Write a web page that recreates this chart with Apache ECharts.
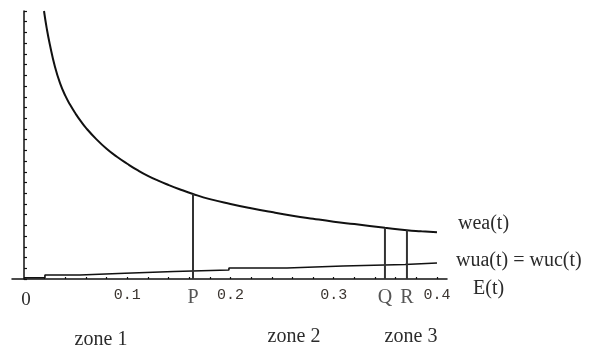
<!DOCTYPE html>
<html>
<head>
<meta charset="utf-8">
<script src="https://cdn.jsdelivr.net/npm/echarts@6/dist/echarts.min.js"></script>
<style>
  html, body { margin: 0; padding: 0; background: #ffffff; }
  #chart { width: 600px; height: 352px; }
</style>
</head>
<body>
<div id="chart"></div>
<script>
// wea(t): sampled curve, t on the horizontal axis
const weaT = [0.0194, 0.022, 0.025, 0.030, 0.035, 0.040, 0.045, 0.050, 0.055, 0.060,
              0.070, 0.080, 0.090, 0.100, 0.110, 0.120, 0.130, 0.140, 0.150, 0.1637,
              0.180, 0.200, 0.220, 0.240, 0.260, 0.280, 0.300, 0.320, 0.3496, 0.3709,
              0.385, 0.400];
const weaY = [25.0, 23.4, 21.9, 19.8, 18.25, 17.1, 16.2, 15.42, 14.72, 14.1,
              13.05, 12.15, 11.4, 10.75, 10.15, 9.62, 9.17, 8.77, 8.40, 7.93,
              7.45, 7.0, 6.6, 6.24, 5.91, 5.62, 5.35, 5.12, 4.78, 4.55,
              4.45, 4.35];

// wua(t) = wuc(t): step levels, each level holds until the next t
const wuaT = [0, 0.0203, 0.0542, 0.0978, 0.1453, 0.1985, 0.2547, 0.309, 0.369, 0.400];
const wuaY = [0.12, 0.37, 0.53, 0.70, 0.84, 1.03, 1.21, 1.35, 1.49, 1.49];

// marked instants and the height of wea(t) there
const markNames = ['P', 'Q', 'R'];
const markT = [0.1637, 0.3496, 0.3709];
const markY = [7.93, 4.78, 4.55];

// axis ticks and labels
const xTickValues = [0.02, 0.04, 0.06, 0.08, 0.10, 0.12, 0.14, 0.16, 0.18, 0.20,
                     0.22, 0.24, 0.26, 0.28, 0.30, 0.32, 0.34, 0.36, 0.38, 0.40];
const xLabelValues = [0, 0.1, 0.2, 0.3, 0.4];
const xLabelTexts = ['0', '0.1', '0.2', '0.3', '0.4'];

const zoneNames = ['zone 1', 'zone 2', 'zone 3'];

const SERIF = '"Liberation Serif", "DejaVu Serif", serif';
const MONO = '"Liberation Mono", "DejaVu Sans Mono", monospace';
const TEXT = '#2b2b2b';

const chart = echarts.init(document.getElementById('chart'), null, { renderer: 'canvas' });

// vertical drop lines from wea(t) to the time axis
const dropSeries = markNames.map((name, i) => ({
  name: 'drop ' + name,
  type: 'line',
  data: [[markT[i], 0], [markT[i], markY[i]]],
  symbol: 'none',
  silent: true,
  clip: false,
  lineStyle: { color: '#333333', width: 2 }
}));

chart.setOption({
  animation: false,
  backgroundColor: '#ffffff',
  grid: { left: 12, right: 153, top: 11, bottom: 73, containLabel: false, outerBoundsMode: 'none' },
  xAxis: {
    type: 'value',
    min: -0.0116,
    max: 0.4097,
    name: 'E(t)',
    nameLocation: 'end',
    nameGap: 26,
    nameTextStyle: {
      fontFamily: SERIF, fontSize: 20, color: TEXT,
      align: 'left', verticalAlign: 'top'
    },
    axisLine: { show: true, onZero: false, lineStyle: { color: '#111111', width: 1.5 } },
    axisTick: { show: true, inside: true, length: 2, customValues: xTickValues,
                lineStyle: { color: '#111111', width: 1.2 } },
    axisLabel: {
      show: true,
      margin: 9,
      customValues: xLabelValues,
      formatter: v => {
        const i = xLabelValues.findIndex(x => Math.abs(x - v) < 1e-9);
        const t = i >= 0 ? xLabelTexts[i] : '';
        return i === 0 ? '{z|' + t + '}' : '{m|' + t + '}';
      },
      rich: {
        z: { fontFamily: SERIF, fontSize: 19, color: TEXT, padding: [3, 0, 0, 4] },
        m: { fontFamily: MONO, fontSize: 15, color: '#3b3530' }
      }
    },
    splitLine: { show: false }
  },
  yAxis: {
    type: 'value',
    min: 0,
    max: 25,
    interval: 1,
    axisLine: { show: true, onZero: true, lineStyle: { color: '#111111', width: 1.5 } },
    axisTick: { show: true, inside: true, length: 3, lineStyle: { color: '#111111', width: 1.2 } },
    axisLabel: { show: false },
    splitLine: { show: false }
  },
  graphic: zoneNames.map((z, i) => ({
    type: 'text',
    x: [101, 294, 411][i],
    y: [340, 337, 337][i],
    style: {
      text: z,
      font: '20px ' + SERIF,
      fill: TEXT,
      align: 'center',
      verticalAlign: 'middle'
    }
  })),
  series: [
    {
      name: 'wea(t)',
      type: 'line',
      data: weaT.map((t, i) => [t, weaY[i]]),
      symbol: 'none',
      smooth: 0.5,
      clip: false,
      lineStyle: { color: '#111111', width: 2 },
      endLabel: {
        show: true,
        formatter: 'wea(t)',
        distance: 0,
        offset: [21, -9],
        fontFamily: SERIF,
        fontSize: 20,
        color: TEXT
      }
    },
    {
      name: 'wua(t)',
      type: 'line',
      data: wuaT.map((t, i) => [t, wuaY[i]]),
      step: 'end',
      symbol: 'none',
      clip: false,
      lineStyle: { color: '#111111', width: 1.6 },
      endLabel: {
        show: true,
        formatter: 'wua(t) = wuc(t)',
        distance: 0,
        offset: [19, -2],
        fontFamily: SERIF,
        fontSize: 20,
        color: TEXT
      }
    },
    ...dropSeries,
    {
      name: 'marks',
      type: 'scatter',
      data: markNames.map((n, i) => ({ name: n, value: [markT[i], 0] })),
      symbolSize: 1,
      silent: true,
      clip: false,
      itemStyle: { color: 'rgba(0,0,0,0)' },
      label: {
        show: true,
        position: 'bottom',
        distance: 8,
        formatter: p => p.name,
        fontFamily: SERIF,
        fontSize: 20,
        color: TEXT
      }
    }
  ]
});
</script>
</body>
</html>
